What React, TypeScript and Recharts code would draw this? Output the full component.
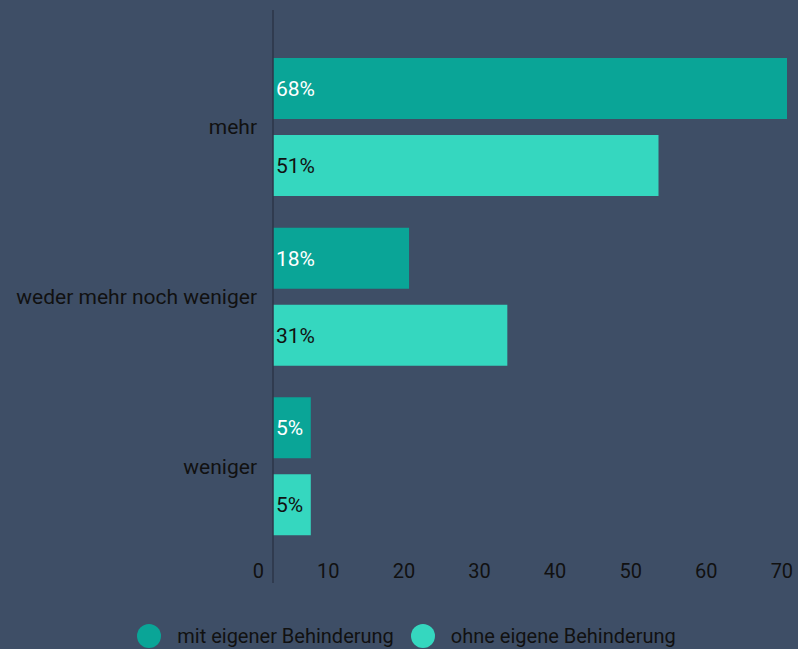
import React from 'react';
import { BarChart, Bar, XAxis, YAxis, Legend, LabelList } from 'recharts';

const categories = ['mehr', 'weder mehr noch weniger', 'weniger'];
const mitEigenerBehinderung = [68, 18, 5];
const ohneEigeneBehinderung = [51, 31, 5];
const xTicks = [0, 10, 20, 30, 40, 50, 60, 70];
const seriesNames = ['mit eigener Behinderung', 'ohne eigene Behinderung'];
const seriesColors = ['#0aa597', '#35d7bf'];

const data = categories.map((c, i) => ({
  category: c,
  mit: mitEigenerBehinderung[i],
  ohne: ohneEigeneBehinderung[i],
}));

const FONT = 'Roboto, "Noto Sans", sans-serif';
const TEXT = '#111111';

const XTick = (props: any) => {
  const { x, y, payload } = props;
  return (
    <text
      x={x - 9}
      y={y - 12}
      textAnchor="end"
      dominantBaseline="central"
      fill={TEXT}
      fontSize={20}
      fontFamily={FONT}
    >
      {payload.value}
    </text>
  );
};

const LegendContent = () => (
  <div
    style={{
      display: 'flex',
      justifyContent: 'center',
      alignItems: 'center',
      height: 26,
      fontFamily: FONT,
      fontSize: 20,
      color: TEXT,
      paddingLeft: 15,
    }}
  >
    {seriesNames.map((n, i) => (
      <div
        key={n}
        style={{ display: 'flex', alignItems: 'center', marginRight: i === 0 ? 17 : 0 }}
      >
        <span
          style={{
            display: 'inline-block',
            width: 24,
            height: 24,
            borderRadius: 12,
            background: seriesColors[i],
            marginRight: 16,
          }}
        />
        <span>{n}</span>
      </div>
    ))}
  </div>
);

export default function App() {
  return (
    <div
      style={{
        position: 'fixed',
        left: 0,
        top: 0,
        width: 798,
        height: 649,
        background: '#3e4e66',
      }}
    >
      <BarChart
        width={798}
        height={649}
        data={data}
        layout="vertical"
        margin={{ top: 10, right: 11, bottom: 0, left: 0 }}
        barSize={61}
        barGap={16}
      >
        <XAxis
          type="number"
          domain={[0, 68]}
          ticks={xTicks}
          allowDataOverflow
          axisLine={false}
          tickLine={false}
          tickSize={0}
          tickMargin={0}
          height={40}
          tick={<XTick />}
          interval={0}
        />
        <YAxis
          type="category"
          dataKey="category"
          width={273}
          padding={{ top: 32, bottom: 32 }}
          axisLine={{ stroke: '#2c3649', strokeWidth: 1.5 }}
          tickLine={false}
          tickSize={0}
          tickMargin={16}
          tick={{ fill: TEXT, fontSize: 21, fontFamily: FONT }}
        />
        <Legend
          verticalAlign="bottom"
          content={<LegendContent />}
          wrapperStyle={{ left: 0, width: 798, height: 26, bottom: 0 }}
        />
        <Bar dataKey="mit" name={seriesNames[0]} fill={seriesColors[0]} isAnimationActive={false}>
          <LabelList
            dataKey="mit"
            position="insideLeft"
            offset={3}
            fill="#ffffff"
            fontSize={21}
            fontFamily={FONT}
            formatter={(v: any) => `${v}%`}
          />
        </Bar>
        <Bar dataKey="ohne" name={seriesNames[1]} fill={seriesColors[1]} isAnimationActive={false}>
          <LabelList
            dataKey="ohne"
            position="insideLeft"
            offset={3}
            fill={TEXT}
            fontSize={21}
            fontFamily={FONT}
            formatter={(v: any) => `${v}%`}
          />
        </Bar>
      </BarChart>
    </div>
  );
}
